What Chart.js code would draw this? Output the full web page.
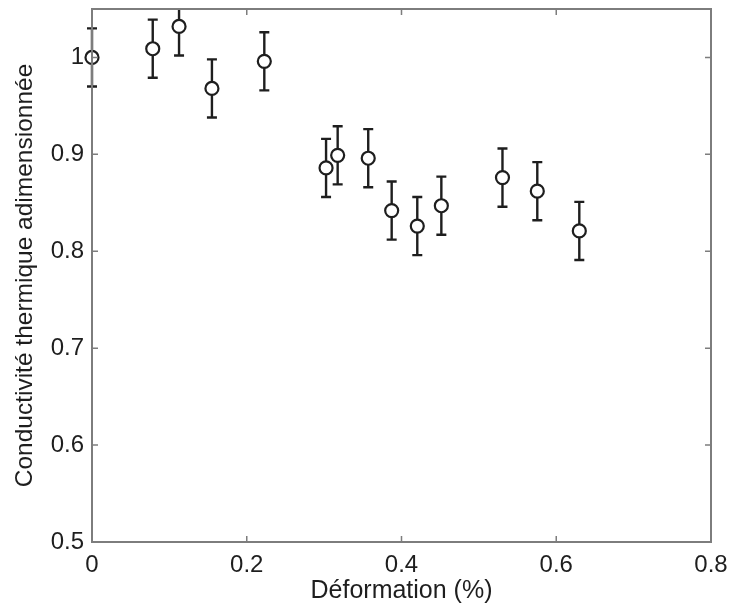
<!DOCTYPE html>
<html>
<head>
<meta charset="utf-8">
<script src="https://cdn.jsdelivr.net/npm/chart.js@4.4.1/dist/chart.umd.min.js"></script>
<style>
html,body{margin:0;padding:0;background:#fff;}
#wrap{width:733px;height:611px;}
</style>
</head>
<body>
<div id="wrap"><canvas id="c" width="733" height="611"></canvas></div>
<script>
// Data
const deformation = [0, 0.0785, 0.1125, 0.155, 0.2227, 0.3025, 0.3175, 0.357, 0.3873, 0.4204, 0.4515, 0.5305, 0.5755, 0.6298];
const conductivite = [1.000, 1.009, 1.032, 0.968, 0.996, 0.886, 0.899, 0.896, 0.842, 0.826, 0.847, 0.876, 0.862, 0.821];
const erreur = [0.03, 0.03, 0.03, 0.03, 0.03, 0.03, 0.03, 0.03, 0.03, 0.03, 0.03, 0.03, 0.03, 0.03];
const xTicks = [0, 0.2, 0.4, 0.6, 0.8];
const yTicks = [0.5, 0.6, 0.7, 0.8, 0.9, 1.0];
const xTitle = 'Déformation (%)';
const yTitle = 'Conductivité thermique adimensionnée';

const FONT = '"Liberation Sans", Arial, Helvetica, sans-serif';
const INK = '#1e1e1e';
const AXIS = '#7d7d7d';

const points = deformation.map((x, i) => ({x: x, y: conductivite[i]}));

const frame = {
  id: 'frame',
  beforeDatasetsDraw(chart) {
    const ctx = chart.ctx, xs = chart.scales.x, ys = chart.scales.y, a = chart.chartArea;
    // error bars (clipped only at the top / bottom of the axes)
    ctx.save();
    ctx.strokeStyle = INK;
    ctx.lineWidth = 2.4;
    ctx.beginPath();
    ctx.rect(a.left - 30, a.top, a.right - a.left + 60, a.bottom - a.top);
    ctx.clip();
    deformation.forEach((x, i) => {
      const px = xs.getPixelForValue(x);
      const yt = ys.getPixelForValue(conductivite[i] + erreur[i]);
      const yb = ys.getPixelForValue(conductivite[i] - erreur[i]);
      ctx.beginPath();
      ctx.moveTo(px, yt); ctx.lineTo(px, yb);
      ctx.moveTo(px - 5, yt); ctx.lineTo(px + 5, yt);
      ctx.moveTo(px - 5, yb); ctx.lineTo(px + 5, yb);
      ctx.stroke();
    });
    ctx.restore();
  },
  afterDatasetsDraw(chart) {
    const ctx = chart.ctx, xs = chart.scales.x, ys = chart.scales.y, a = chart.chartArea;
    // axis box with inward ticks
    ctx.save();
    ctx.strokeStyle = AXIS;
    ctx.lineWidth = 2;
    ctx.strokeRect(a.left, a.top, a.right - a.left, a.bottom - a.top);
    ctx.lineWidth = 1.5;
    const L = 6;
    ctx.beginPath();
    xTicks.forEach(v => {
      const px = xs.getPixelForValue(v);
      ctx.moveTo(px, a.bottom); ctx.lineTo(px, a.bottom - L);
      ctx.moveTo(px, a.top); ctx.lineTo(px, a.top + L);
    });
    yTicks.forEach(v => {
      const py = ys.getPixelForValue(v);
      ctx.moveTo(a.left, py); ctx.lineTo(a.left + L, py);
      ctx.moveTo(a.right, py); ctx.lineTo(a.right - L, py);
    });
    ctx.stroke();
    ctx.restore();
  }
};

const fmt = v => String(parseFloat(Number(v).toFixed(2)));

new Chart(document.getElementById('c'), {
  type: 'scatter',
  data: {
    datasets: [{
      data: points,
      clip: false,
      pointStyle: 'circle',
      pointRadius: 6.5,
      pointHoverRadius: 6.5,
      pointBorderWidth: 2.2,
      pointBorderColor: INK,
      pointBackgroundColor: 'rgba(255,255,255,1)',
      showLine: false
    }]
  },
  options: {
    responsive: false,
    animation: false,
    events: [],
    layout: {padding: {top: 9, right: 22, left: 0, bottom: 0}},
    plugins: {legend: {display: false}, tooltip: {enabled: false}},
    scales: {
      x: {
        type: 'linear',
        min: 0, max: 0.8,
        grid: {display: false, drawTicks: false},
        border: {display: false},
        afterBuildTicks: s => { s.ticks = xTicks.map(v => ({value: v})); },
        afterFit: s => { s.height = 69; s.paddingLeft = 0; s.paddingRight = 0; },
        ticks: {
          padding: 9,
          color: INK,
          font: {family: FONT, size: 24},
          maxRotation: 0,
          autoSkip: false,
          callback: v => fmt(v)
        },
        title: {
          display: true,
          text: xTitle,
          color: INK,
          font: {family: FONT, size: 25},
          padding: {top: 0, bottom: 5}
        }
      },
      y: {
        type: 'linear',
        min: 0.5, max: 1.05,
        grid: {display: false, drawTicks: false},
        border: {display: false},
        afterBuildTicks: s => { s.ticks = yTicks.map(v => ({value: v})); },
        afterFit: s => { s.width = 92; s.paddingTop = 0; s.paddingBottom = 0; },
        ticks: {
          padding: 8,
          color: INK,
          font: {family: FONT, size: 24},
          autoSkip: false,
          callback: v => fmt(v)
        },
        title: {
          display: true,
          text: yTitle,
          color: INK,
          font: {family: FONT, size: 24.5},
          padding: {top: 11, bottom: 0}
        }
      }
    }
  }
  ,plugins: [frame]
});
</script>
</body>
</html>
